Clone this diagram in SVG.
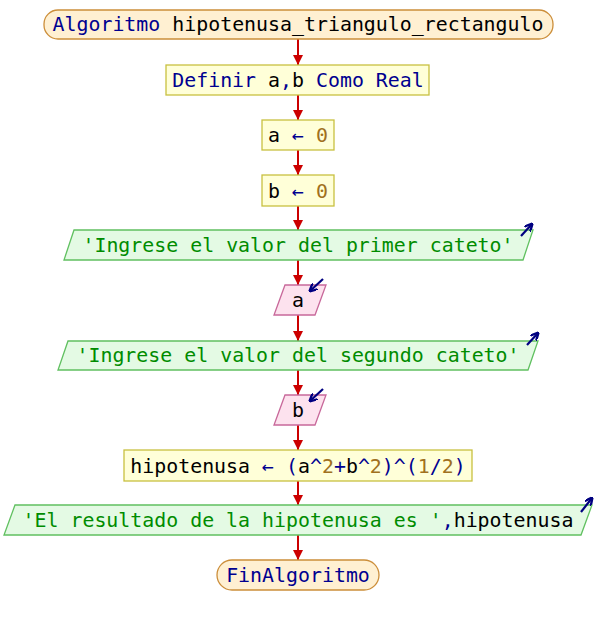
<svg xmlns="http://www.w3.org/2000/svg" width="596" height="625" viewBox="0 0 596 625">
<defs>
<marker id="ah" viewBox="0 0 10 10" refX="10" refY="5" markerWidth="10" markerHeight="10" markerUnits="userSpaceOnUse" orient="auto">
<path d="M0,0 L10,5 L0,10 Z" fill="#cc0000"/>
</marker>
<marker id="bh" viewBox="0 0 10 10" refX="9" refY="5" markerWidth="8" markerHeight="8" markerUnits="userSpaceOnUse" orient="auto">
<path d="M0,0 L10,5 L0,10" fill="none" stroke="#000080" stroke-width="3"/>
</marker>
<style>
text{font-family:"DejaVu Sans Mono","Liberation Mono",monospace;font-size:19.9px;text-anchor:middle}
.term{fill:#fff0d2;stroke:#cc8e3a;stroke-width:1.3}
.proc{fill:#ffffd8;stroke:#c8c040;stroke-width:1.3}
.out{fill:#e4fae4;stroke:#60c060;stroke-width:1.3}
.in{fill:#fde2ee;stroke:#c8689a;stroke-width:1.3}
.kw{fill:#000090}
.id{fill:#000000}
.num{fill:#a07020}
.op{fill:#000090}
.str{fill:#008c00}
.conn{stroke:#cc0000;stroke-width:2;fill:none;marker-end:url(#ah)}
.icon{stroke:#000080;stroke-width:2.2;fill:none;marker-end:url(#bh)}
</style>
</defs>
<g id="connectors">
<line class="conn" x1="298" y1="39" x2="298" y2="65"/>
<line class="conn" x1="298" y1="95" x2="298" y2="120"/>
<line class="conn" x1="298" y1="150" x2="298" y2="175"/>
<line class="conn" x1="298" y1="206" x2="298" y2="230"/>
<line class="conn" x1="298" y1="260" x2="298" y2="285"/>
<line class="conn" x1="298" y1="315" x2="298" y2="341"/>
<line class="conn" x1="298" y1="370" x2="298" y2="395"/>
<line class="conn" x1="298" y1="425" x2="298" y2="450"/>
<line class="conn" x1="298" y1="481" x2="298" y2="505"/>
<line class="conn" x1="298" y1="535" x2="298" y2="560"/>
</g>
<g id="start">
<rect class="term" x="44" y="10" width="509" height="29" rx="14"/>
<text x="298" y="31"><tspan class="kw">Algoritmo</tspan><tspan class="id"> hipotenusa_triangulo_rectangulo</tspan></text>
</g>
<g id="definir">
<rect class="proc" x="166" y="65" width="263" height="30"/>
<text x="298" y="87"><tspan class="kw">Definir </tspan><tspan class="id">a</tspan><tspan class="op">,</tspan><tspan class="id">b</tspan><tspan class="kw"> Como Real</tspan></text>
</g>
<g id="assign_a">
<rect class="proc" x="262" y="120" width="72" height="30"/>
<text x="298" y="142"><tspan class="id">a </tspan><tspan class="op">←</tspan><tspan class="num"> 0</tspan></text>
</g>
<g id="assign_b">
<rect class="proc" x="262" y="175" width="72" height="31"/>
<text x="298" y="198"><tspan class="id">b </tspan><tspan class="op">←</tspan><tspan class="num"> 0</tspan></text>
</g>
<g id="out1">
<polygon class="out" points="74,230 533,230 523,260 64,260"/>
<text x="298" y="252" class="str">'Ingrese el valor del primer cateto'</text>
<line class="icon" x1="521" y1="236" x2="532" y2="224"/>
</g>
<g id="in_a">
<polygon class="in" points="285,285 326,285 315,315 274,315"/>
<text x="298" y="307" class="id">a</text>
<line class="icon" x1="323" y1="279" x2="310" y2="291"/>
</g>
<g id="out2">
<polygon class="out" points="68,341 538,341 528,370 58,370"/>
<text x="298" y="362" class="str">'Ingrese el valor del segundo cateto'</text>
<line class="icon" x1="527" y1="345" x2="538" y2="333"/>
</g>
<g id="in_b">
<polygon class="in" points="285,395 326,395 315,425 274,425"/>
<text x="298" y="417" class="id">b</text>
<line class="icon" x1="323" y1="389" x2="310" y2="401"/>
</g>
<g id="calc">
<rect class="proc" x="124" y="450" width="348" height="31"/>
<text x="298" y="473"><tspan class="id">hipotenusa </tspan><tspan class="op">←</tspan><tspan class="op"> (</tspan><tspan class="id">a</tspan><tspan class="op">^</tspan><tspan class="num">2</tspan><tspan class="op">+</tspan><tspan class="id">b</tspan><tspan class="op">^</tspan><tspan class="num">2</tspan><tspan class="op">)^(</tspan><tspan class="num">1</tspan><tspan class="op">/</tspan><tspan class="num">2</tspan><tspan class="op">)</tspan></text>
</g>
<g id="out3">
<polygon class="out" points="15,505 592,505 581,535 4,535"/>
<text x="298" y="527"><tspan class="str">'El resultado de la hipotenusa es '</tspan><tspan class="op">,</tspan><tspan class="id">hipotenusa</tspan></text>
<line class="icon" x1="581" y1="512" x2="592" y2="498"/>
</g>
<g id="end">
<rect class="term" x="217" y="560" width="162" height="30" rx="15"/>
<text x="298" y="582" class="kw">FinAlgoritmo</text>
</g>
</svg>
